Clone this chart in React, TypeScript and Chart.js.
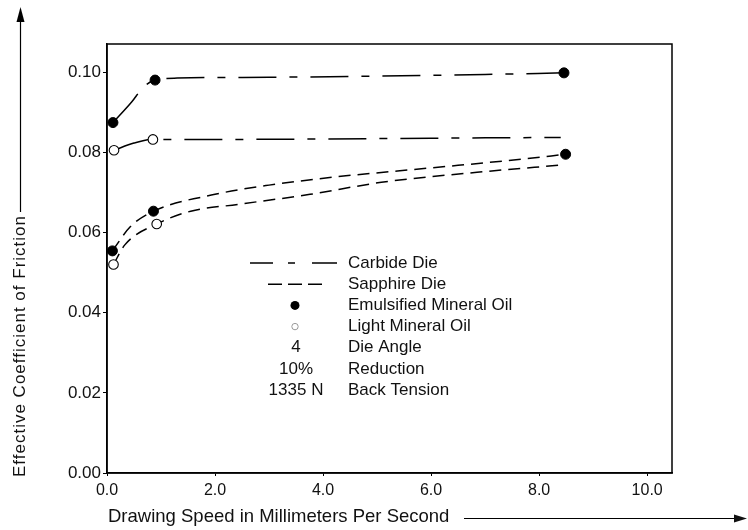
import React, { useEffect, useRef } from 'react';
import { Chart, registerables } from 'chart.js';

Chart.register(...registerables);

// ---- axis ticks ----
const xTicks = [0, 2, 4, 6, 8, 10];
const xTickLabels = ['0.0', '2.0', '4.0', '6.0', '8.0', '10.0'];
const yTicks = [0, 0.02, 0.04, 0.06, 0.08, 0.1];
const yTickLabels = ['0.00', '0.02', '0.04', '0.06', '0.08', '0.10'];

// ---- curves ----
const carbideEmulsifiedCurveX = [0.11, 0.46, 0.67, 0.89, 1.3, 3.0, 5.0, 7.0, 8.46];
const carbideEmulsifiedCurveY = [0.0874, 0.0926, 0.0962, 0.098, 0.0985, 0.0987, 0.099, 0.0994, 0.0998];

const carbideLightCurveX = [0.13, 0.5, 0.85, 2.0, 4.0, 6.0, 8.4];
const carbideLightCurveY = [0.0805, 0.0823, 0.0832, 0.0832, 0.0833, 0.0835, 0.0837];

const sapphireEmulsifiedCurveX = [0.1, 0.43, 0.86, 2.0, 3.0, 4.2, 6.0, 7.7, 8.49];
const sapphireEmulsifiedCurveY = [0.0554, 0.0614, 0.0653, 0.0695, 0.0718, 0.0738, 0.0761, 0.0783, 0.0795];

const sapphireLightCurveX = [0.12, 0.33, 0.92, 1.55, 2.43, 3.76, 5.08, 6.85, 8.4];
const sapphireLightCurveY = [0.052, 0.0569, 0.0621, 0.0653, 0.067, 0.0695, 0.0725, 0.075, 0.0768];

// ---- measured points ----
const emulsifiedPointsX = [0.11, 0.89, 8.46, 0.1, 0.86, 8.49];
const emulsifiedPointsY = [0.0874, 0.098, 0.0998, 0.0554, 0.0653, 0.0795];
const lightPointsX = [0.13, 0.85, 0.12, 0.92];
const lightPointsY = [0.0805, 0.0832, 0.052, 0.0621];

// ---- legend / annotation text ----
const legendLabels = [
  'Carbide Die',
  'Sapphire Die',
  'Emulsified Mineral Oil',
  'Light Mineral Oil',
  'Die Angle',
  'Reduction',
  'Back Tension',
];
const conditionKeys = ['4', '10%', '1335 N'];
const xTitle = 'Drawing Speed in Millimeters Per Second';
const yTitle = 'Effective Coefficient of Friction';

const toXY = (xs: number[], ys: number[]) => xs.map((x, i) => ({ x, y: ys[i] }));

const FONT = '"Liberation Sans", Arial, sans-serif';
const CARBIDE_DASH = [38, 13, 8, 13];
const SAPPHIRE_DASH = [12, 7];

const decorPlugin = {
  id: 'decor',
  afterDraw(chart: any) {
    const { ctx, chartArea } = chart;
    const { left, right, top, bottom } = chartArea;
    ctx.save();
    // frame
    ctx.strokeStyle = '#000';
    ctx.lineWidth = 1.5;
    ctx.setLineDash([]);
    ctx.strokeRect(left, top, right - left, bottom - top);

    // legend
    const rowY = (i: number) => 263 + i * 21.2;
    ctx.lineWidth = 1.6;
    // carbide sample
    ctx.beginPath();
    ctx.moveTo(250, rowY(0)); ctx.lineTo(273, rowY(0));
    ctx.moveTo(288, rowY(0)); ctx.lineTo(295, rowY(0));
    ctx.moveTo(312, rowY(0)); ctx.lineTo(337, rowY(0));
    ctx.stroke();
    // sapphire sample
    ctx.beginPath();
    ctx.moveTo(268, rowY(1)); ctx.lineTo(282, rowY(1));
    ctx.moveTo(288, rowY(1)); ctx.lineTo(302, rowY(1));
    ctx.moveTo(308, rowY(1)); ctx.lineTo(322, rowY(1));
    ctx.stroke();
    // filled marker
    ctx.fillStyle = '#000';
    ctx.beginPath();
    ctx.arc(295, rowY(2), 4.5, 0, Math.PI * 2);
    ctx.fill();
    // open marker
    ctx.strokeStyle = '#999';
    ctx.lineWidth = 1;
    ctx.beginPath();
    ctx.arc(295, rowY(3), 3.2, 0, Math.PI * 2);
    ctx.stroke();

    ctx.fillStyle = '#111';
    ctx.font = `17px ${FONT}`;
    ctx.textBaseline = 'middle';
    ctx.textAlign = 'center';
    conditionKeys.forEach((k, i) => ctx.fillText(k, 296, rowY(4 + i)));
    ctx.textAlign = 'left';
    legendLabels.forEach((t, i) => ctx.fillText(t, 348, rowY(i)));

    // y title + arrow
    ctx.save();
    ctx.translate(20, 477);
    ctx.rotate(-Math.PI / 2);
    ctx.font = `17px ${FONT}`;
    (ctx as any).letterSpacing = '1px';
    ctx.textAlign = 'left';
    ctx.textBaseline = 'middle';
    ctx.fillText(yTitle, 0, 0);
    ctx.restore();
    ctx.strokeStyle = '#000';
    ctx.lineWidth = 1.2;
    ctx.beginPath();
    ctx.moveTo(20.5, 212);
    ctx.lineTo(20.5, 18);
    ctx.stroke();
    ctx.fillStyle = '#000';
    ctx.beginPath();
    ctx.moveTo(20.5, 7);
    ctx.lineTo(16.5, 22);
    ctx.lineTo(24.5, 22);
    ctx.closePath();
    ctx.fill();

    // x title + arrow
    ctx.fillStyle = '#111';
    ctx.font = `18.5px ${FONT}`;
    ctx.textAlign = 'left';
    ctx.textBaseline = 'middle';
    ctx.fillText(xTitle, 108, 517);
    ctx.beginPath();
    ctx.moveTo(464, 518.5);
    ctx.lineTo(738, 518.5);
    ctx.stroke();
    ctx.beginPath();
    ctx.moveTo(747, 518.5);
    ctx.lineTo(734, 514.5);
    ctx.lineTo(734, 522.5);
    ctx.closePath();
    ctx.fill();
    ctx.restore();
  },
};

export default function App() {
  const canvasRef = useRef<HTMLCanvasElement | null>(null);

  useEffect(() => {
    if (!canvasRef.current) return;
    const curve = (xs: number[], ys: number[], dash: number[]) => ({
      type: 'line' as const,
      data: toXY(xs, ys),
      borderColor: '#000',
      borderWidth: 1.5,
      borderDash: dash,
      pointRadius: 0,
      fill: false,
      cubicInterpolationMode: 'monotone' as const,
      order: 2,
    });
    const chart = new Chart(canvasRef.current, {
      type: 'line',
      data: {
        datasets: [
          curve(carbideEmulsifiedCurveX, carbideEmulsifiedCurveY, CARBIDE_DASH),
          curve(carbideLightCurveX, carbideLightCurveY, CARBIDE_DASH),
          curve(sapphireEmulsifiedCurveX, sapphireEmulsifiedCurveY, SAPPHIRE_DASH),
          curve(sapphireLightCurveX, sapphireLightCurveY, SAPPHIRE_DASH),
          {
            type: 'scatter' as const,
            data: toXY(emulsifiedPointsX, emulsifiedPointsY),
            showLine: false,
            pointRadius: 5,
            pointBackgroundColor: '#000',
            pointBorderColor: '#000',
            pointBorderWidth: 1,
            order: 0,
          } as any,
          {
            type: 'scatter' as const,
            data: toXY(lightPointsX, lightPointsY),
            showLine: false,
            pointRadius: 4.8,
            pointBackgroundColor: '#fff',
            pointBorderColor: '#000',
            pointBorderWidth: 1.1,
            order: 0,
          } as any,
        ],
      },
      options: {
        animation: false,
        responsive: false,
        devicePixelRatio: 1,
        layout: { padding: { top: 44, right: 76, bottom: 0, left: 0 } },
        plugins: { legend: { display: false }, tooltip: { enabled: false } },
        scales: {
          x: {
            type: 'linear',
            min: 0,
            max: 10.46,
            afterFit: (s: any) => { s.height = 57; },
            afterBuildTicks: (s: any) => { s.ticks = xTicks.map((v) => ({ value: v })); },
            ticks: {
              callback: (v: any) => { const i = xTicks.indexOf(Number(v)); return i >= 0 ? xTickLabels[i] : ''; },
              color: '#111',
              font: { family: FONT, size: 16 },
              padding: 5,
              maxRotation: 0,
            },
            grid: { drawOnChartArea: false, drawTicks: true, tickLength: 3, color: '#000' },
            border: { display: true, color: '#000', width: 1.5 },
          },
          y: {
            type: 'linear',
            min: 0,
            max: 0.107,
            afterFit: (s: any) => { s.width = 107; },
            afterBuildTicks: (s: any) => { s.ticks = yTicks.map((v) => ({ value: v })); },
            ticks: {
              callback: (v: any) => {
                const i = yTicks.findIndex((t) => Math.abs(t - Number(v)) < 1e-9);
                return i >= 0 ? yTickLabels[i] : '';
              },
              color: '#111',
              font: { family: FONT, size: 17 },
              padding: 2,
            },
            grid: { drawOnChartArea: false, drawTicks: true, tickLength: 4, color: '#000' },
            border: { display: true, color: '#000', width: 1.5 },
          },
        },
      },
      plugins: [decorPlugin],
    });
    return () => chart.destroy();
  }, []);

  return (
    <div style={{ position: 'absolute', left: 0, top: 0, width: 748, height: 530, background: '#fff' }}>
      <canvas ref={canvasRef} width={748} height={530} style={{ width: 748, height: 530, display: 'block' }} />
    </div>
  );
}
